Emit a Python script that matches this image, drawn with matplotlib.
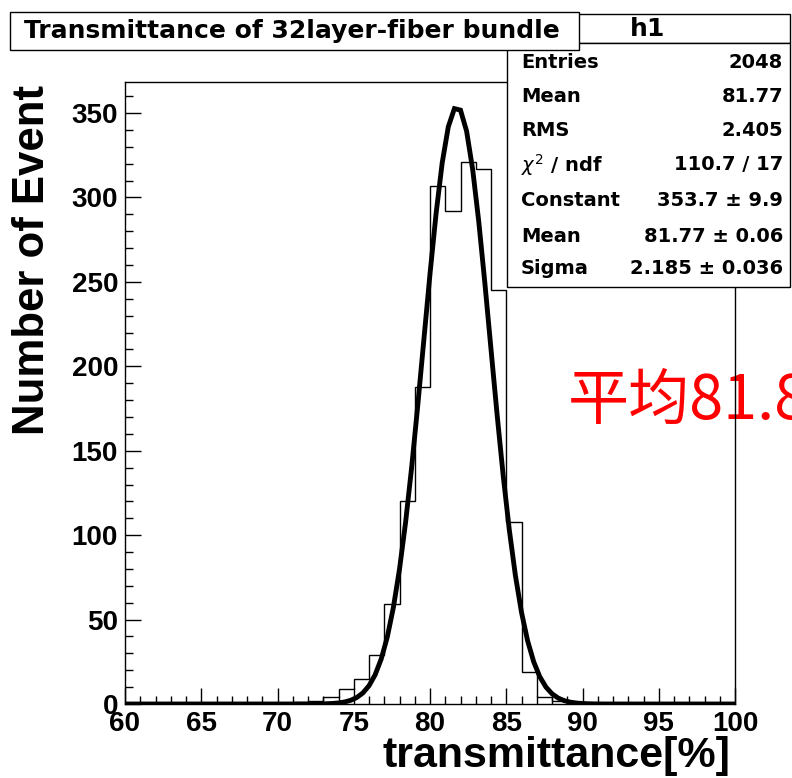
import numpy as np
import matplotlib
matplotlib.use("Agg")
import matplotlib.pyplot as plt
from matplotlib.patches import Rectangle
from matplotlib.ticker import MultipleLocator

# histogram: 40 bins of width 1 between 60 and 100
bin_edges = np.arange(60, 101, 1)
counts = [0, 0, 0, 0, 0, 0, 0, 0, 0, 0,
          0, 1, 2, 4, 9, 15, 29, 59, 120, 188,
          307, 292, 321, 317, 245, 108, 19, 4, 2, 0,
          0, 0, 0, 0, 0, 0, 0, 0, 0, 0]

# gaus fit parameters shown in the stats box
fit_const = 353.7
fit_mean = 81.77
fit_sigma = 2.185

stat_labels = ["Entries", "Mean", "RMS", r"$\chi^{2}$ / ndf", "Constant", "Mean", "Sigma"]
stat_values = ["2048", "81.77", "2.405", "110.7 / 17", "353.7 \u00b1 9.9",
               "81.77 \u00b1 0.06", "2.185 \u00b1 0.036"]

W, H = 792, 778
fig = plt.figure(figsize=(W / 100, H / 100), dpi=100)
ax = fig.add_axes([125 / W, 74 / H, 610 / W, 622 / H])

ax.stairs(counts, bin_edges, color="black", linewidth=1.0)

# fit curve, drawn like ROOT with 100 segments over the axis range
xf = np.linspace(60, 100, 101)
yf = fit_const * np.exp(-0.5 * ((xf - fit_mean) / fit_sigma) ** 2)
ax.plot(xf, yf, color="black", linewidth=3.5, solid_joinstyle="miter")

ax.set_xlim(60, 100)
ax.set_ylim(0, 368.4)
ax.xaxis.set_major_locator(MultipleLocator(5))
ax.xaxis.set_minor_locator(MultipleLocator(1))
ax.yaxis.set_major_locator(MultipleLocator(50))
ax.yaxis.set_minor_locator(MultipleLocator(10))
ax.tick_params(which="both", direction="in", top=False, right=False, width=1.0)
ax.tick_params(which="major", length=11.5)
ax.tick_params(which="minor", length=5.8)
ax.tick_params(axis="x", pad=5)
ax.tick_params(axis="y", pad=5)
for lab in ax.get_xticklabels() + ax.get_yticklabels():
    lab.set_fontfamily("Liberation Sans")
    lab.set_fontweight("bold")
    lab.set_fontsize(20)
for sp in ax.spines.values():
    sp.set_linewidth(1.0)

# axis titles, ROOT style (aligned to the end of the axis)
fig.text(730 / W, 1 - 776 / H, "transmittance[%]", ha="right", va="bottom",
         fontsize=31, fontweight="bold", family="Liberation Sans")
fig.text(33 / W, 1 - 85 / H, "Number of Event", ha="center", va="top", rotation=90,
         fontsize=31.5, fontweight="bold", family="Liberation Sans")

# red annotation, partly cut at the right edge
ax.text(568 / W, 1 - 419 / H, "平均81.8", transform=fig.transFigure, ha="left",
        va="baseline", color="red", fontsize=44, zorder=1, clip_on=False,
        family=["Noto Sans CJK SC", "DejaVu Sans"])

# stats box
def fig_rect(x0, y0, x1, y1, z):
    fig.patches.append(Rectangle((x0 / W, 1 - y1 / H), (x1 - x0) / W, (y1 - y0) / H,
                                 transform=fig.transFigure, facecolor="white",
                                 edgecolor="black", linewidth=1.0, zorder=z))

fig_rect(507, 14, 790, 43, 1)
fig_rect(507, 43, 790, 287, 1)
fig.text(648 / W, 1 - 29 / H, "h1", ha="center", va="center", fontsize=18,
         fontweight="bold", zorder=4)
row_y = [62, 97, 131, 165, 201, 236, 269]
for lab, val, yy in zip(stat_labels, stat_values, row_y):
    fig.text(521 / W, 1 - yy / H, lab, ha="left", va="center", fontsize=14,
             fontweight="bold", zorder=4)
    fig.text(783 / W, 1 - yy / H, val, ha="right", va="center", fontsize=14,
             fontweight="bold", zorder=4)

# title box
fig_rect(10, 12, 579, 50, 2)
fig.text(292 / W, 1 - 31 / H, "Transmittance of 32layer-fiber bundle", ha="center",
         va="center", fontsize=18, fontweight="bold", zorder=4)

fig.savefig("out.png", dpi=100)
